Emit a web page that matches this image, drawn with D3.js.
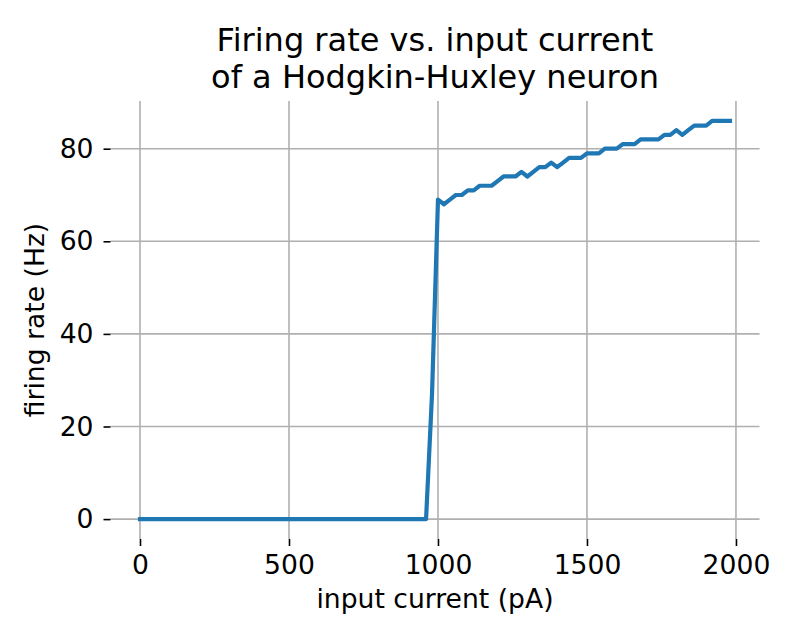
<!DOCTYPE html>
<html>
<head>
<meta charset="utf-8">
<script src="https://cdn.jsdelivr.net/npm/d3@7"></script>
<style>
  body { margin: 0; background: #fff; }
  svg text { font-family: "DejaVu Sans", sans-serif; fill: #000; }
</style>
</head>
<body>
<div id="chart"></div>
<script>
// input current (pA), sampled every 20 pA
const currents = [
  0, 20, 40, 60, 80, 100, 120, 140, 160, 180,
  200, 220, 240, 260, 280, 300, 320, 340, 360, 380,
  400, 420, 440, 460, 480, 500, 520, 540, 560, 580,
  600, 620, 640, 660, 680, 700, 720, 740, 760, 780,
  800, 820, 840, 860, 880, 900, 920, 940, 960, 980,
  1000, 1020, 1040, 1060, 1080, 1100, 1120, 1140, 1160, 1180,
  1200, 1220, 1240, 1260, 1280, 1300, 1320, 1340, 1360, 1380,
  1400, 1420, 1440, 1460, 1480, 1500, 1520, 1540, 1560, 1580,
  1600, 1620, 1640, 1660, 1680, 1700, 1720, 1740, 1760, 1780,
  1800, 1820, 1840, 1860, 1880, 1900, 1920, 1940, 1960, 1980
];

// firing rate (Hz)
const rates = [
  0, 0, 0, 0, 0, 0, 0, 0, 0, 0,
  0, 0, 0, 0, 0, 0, 0, 0, 0, 0,
  0, 0, 0, 0, 0, 0, 0, 0, 0, 0,
  0, 0, 0, 0, 0, 0, 0, 0, 0, 0,
  0, 0, 0, 0, 0, 0, 0, 0, 0, 27,
  69, 68, 69, 70, 70, 71, 71, 72, 72, 72,
  73, 74, 74, 74, 75, 74, 75, 76, 76, 77,
  76, 77, 78, 78, 78, 79, 79, 79, 80, 80,
  80, 81, 81, 81, 82, 82, 82, 82, 83, 83,
  84, 83, 84, 85, 85, 85, 86, 86, 86, 86
];

const xTicks = [0, 500, 1000, 1500, 2000];
const yTicks = [0, 20, 40, 60, 80];

const titleLines = ["Firing rate vs. input current", "of a Hodgkin-Huxley neuron"];
const xLabel = "input current (pA)";
const yLabel = "firing rate (Hz)";

const width = 800, height = 640;
const plot = { left: 110.5, right: 759.5, top: 101, bottom: 539 };

const svg = d3.select("#chart").append("svg")
  .attr("width", width)
  .attr("height", height);

// matplotlib style 5% margins around the data
const xExt = d3.extent(currents), yExt = d3.extent(rates);
const xPad = (xExt[1] - xExt[0]) * 0.05, yPad = (yExt[1] - yExt[0]) * 0.05;

const x = d3.scaleLinear()
  .domain([xExt[0] - xPad, xExt[1] + xPad])
  .range([plot.left, plot.right]);
const y = d3.scaleLinear()
  .domain([yExt[0] - yPad, yExt[1] + yPad])
  .range([plot.bottom, plot.top]);

// grid
const grid = svg.append("g").attr("class", "grid")
  .attr("stroke", "#b0b0b0")
  .attr("stroke-width", 1.6);
grid.selectAll(".vgrid").data(xTicks).enter().append("line")
  .attr("x1", d => x(d)).attr("x2", d => x(d))
  .attr("y1", plot.top).attr("y2", plot.bottom);
grid.selectAll(".hgrid").data(yTicks).enter().append("line")
  .attr("x1", plot.left).attr("x2", plot.right)
  .attr("y1", d => y(d)).attr("y2", d => y(d));

// axes without spines
const xAxis = svg.append("g")
  .attr("transform", `translate(0,${plot.bottom})`)
  .call(d3.axisBottom(x).tickValues(xTicks).tickSize(7).tickPadding(9).tickFormat(d3.format("d")));
const yAxis = svg.append("g")
  .attr("transform", `translate(${plot.left},0)`)
  .call(d3.axisLeft(y).tickValues(yTicks).tickSize(7).tickPadding(10).tickFormat(d3.format("d")));

[xAxis, yAxis].forEach(a => {
  a.select(".domain").remove();
  a.selectAll(".tick line").attr("stroke", "#000").attr("stroke-width", 1.6);
  a.selectAll(".tick text")
    .style("font-family", "DejaVu Sans, sans-serif")
    .style("font-size", "26.6px")
    .attr("fill", "#000");
});

// the curve
const line = d3.line()
  .x((d, i) => x(currents[i]))
  .y(d => y(d));

svg.append("path")
  .datum(rates)
  .attr("fill", "none")
  .attr("stroke", "#1f77b4")
  .attr("stroke-width", 4.2)
  .attr("stroke-linejoin", "round")
  .attr("stroke-linecap", "square")
  .attr("d", line);

// title
const cx = (plot.left + plot.right) / 2;
svg.append("text")
  .attr("text-anchor", "middle")
  .style("font-size", "32px")
  .selectAll("tspan").data(titleLines).enter().append("tspan")
  .attr("x", cx)
  .attr("y", (d, i) => 51 + i * 37)
  .text(d => d);

// axis labels
svg.append("text")
  .attr("x", cx)
  .attr("y", 608)
  .attr("text-anchor", "middle")
  .style("font-size", "26.6px")
  .text(xLabel);

svg.append("text")
  .attr("transform", `translate(43.5,${(plot.top + plot.bottom) / 2}) rotate(-90)`)
  .attr("text-anchor", "middle")
  .style("font-size", "26.6px")
  .text(yLabel);
</script>
</body>
</html>
